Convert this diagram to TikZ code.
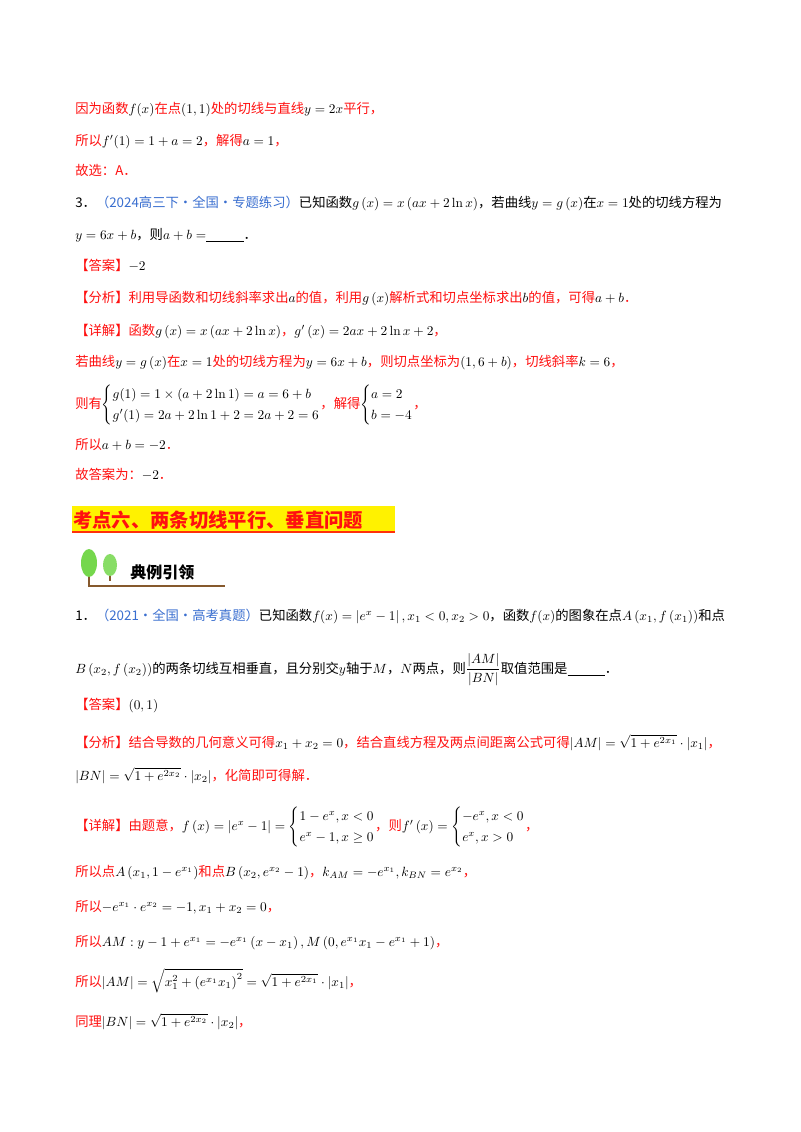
\documentclass[tikz,border=0pt]{standalone}
\usepackage{amsmath,amssymb}
\usepackage{fontspec}
\newfontfamily\cjk{Noto Sans CJK SC}
\definecolor{rd}{HTML}{FF1010}
\definecolor{bl}{HTML}{3A6FD0}
\newcommand{\mm}[1]{{\color{black}$#1$}}
\tikzset{txt/.style={anchor=base west,inner sep=0pt,text=rd,font=\cjk\fontsize{10}{13}\selectfont},
 qtxt/.style={txt,text=black}}
\begin{document}
\begin{tikzpicture}[x=0.75pt,y=-0.75pt]
\useasboundingbox[fill=white] (0,0) rectangle (800,1132);
\node[txt] (l1) at (75,113) {因为函数\mm{f(x)}在点\mm{(1,1)}处的切线与直线\mm{y=2x}平行，};
\node[txt] (l2) at (75,145) {所以\mm{f'(1)=1+a=2}，解得\mm{a=1}，};
\node[txt] (l3) at (75,175) {故选：A．};
\node[qtxt] (l4) at (75,207) {3．\textcolor{bl}{（2024高三下·全国·专题练习）}已知函数\mm{g\left(x\right)=x\left(ax+2\ln x\right)}，若曲线\mm{y=g\left(x\right)}在\mm{x=1}处的切线方程为};
\node[qtxt] (l5) at (75,239) {\mm{y=6x+b}，则\mm{a+b=}\underline{\hspace{2.8em}}．};
\node[txt] (l6) at (75,270) {【答案】\mm{-2}};
\node[txt] (l7) at (75,302) {【分析】利用导函数和切线斜率求出\mm{a}的值，利用\mm{g\left(x\right)}解析式和切点坐标求出\mm{b}的值，可得\mm{a+b}．};
\node[txt] (l8) at (75,335) {【详解】函数\mm{g\left(x\right)=x\left(ax+2\ln x\right)}，\mm{g'\left(x\right)=2ax+2\ln x+2}，};
\node[txt] (l9) at (75,366) {若曲线\mm{y=g\left(x\right)}在\mm{x=1}处的切线方程为\mm{y=6x+b}，则切点坐标为\mm{\left(1,6+b\right)}，切线斜率\mm{k=6}，};
\node[txt] (l10) at (75,408) {则有\mm{\begin{cases}g(1)=1\times\left(a+2\ln 1\right)=a=6+b\\ g'(1)=2a+2\ln1+2=2a+2=6\end{cases}\hspace{-1em}}，解得\mm{\begin{cases}a=2\\ b=-4\end{cases}\hspace{-1em}}，};
\node[txt] (l11) at (75,449) {所以\mm{a+b=-2}．};
\node[txt] (l12) at (75,479) {故答案为：\mm{-2}．};
% heading
\fill[yellow] (72,506) rectangle (395,532);
\node[txt,font=\cjk\bfseries\fontsize{14.5}{17}\selectfont] (h) at (73,527) {考点六、两条切线平行、垂直问题};
\draw[rd!70!orange,line width=1.2pt] (72,532) -- (395,532);
% banner
\draw[brown!70!black,line width=0.8pt] (89,560) -- (89,586) -- (225,586);
\draw[brown!70!black,line width=0.8pt] (110,560) -- (110,581);
\fill[green!55!olive!70] (89,563) ellipse (8 and 14);
\fill[green!55!olive!60] (110,565) ellipse (7 and 11);
\node[qtxt,font=\cjk\bfseries\fontsize{12}{14}\selectfont] (ban) at (130,578) {典例引领};
% question 1
\node[qtxt] (q1) at (75,620) {1．\textcolor{bl}{（2021·全国·高考真题）}已知函数\mm{f(x)=\left|e^x-1\right|,x_1<0,x_2>0}，函数\mm{f(x)}的图象在点\mm{A\left(x_1,f\left(x_1\right)\right)}和点};
\node[qtxt] (q2) at (75,673) {\mm{B\left(x_2,f\left(x_2\right)\right)}的两条切线互相垂直，且分别交\mm{y}轴于\mm{M}，\mm{N}两点，则\mm{\dfrac{|AM|}{|BN|}}取值范围是\underline{\hspace{2.8em}}．};
\node[txt] (a1) at (75,709) {【答案】\mm{\left(0,1\right)}};
\node[txt] (f1) at (75,747) {【分析】结合导数的几何意义可得\mm{x_1+x_2=0}，结合直线方程及两点间距离公式可得\mm{\left|AM\right|=\sqrt{1+e^{2x_1}}\cdot\left|x_1\right|}，};
\node[txt] (f2) at (75,780) {\mm{\left|BN\right|=\sqrt{1+e^{2x_2}}\cdot\left|x_2\right|}，化简即可得解．};
\node[txt] (d1) at (75,830) {【详解】由题意，\mm{f\left(x\right)=\left|e^x-1\right|=\begin{cases}1-e^x,x<0\\ e^x-1,x\ge0\end{cases}\hspace{-1em}}，则\mm{f'\left(x\right)=\begin{cases}-e^x,x<0\\ e^x,x>0\end{cases}\hspace{-1em}}，};
\node[txt] (d2) at (75,876) {所以点\mm{A\left(x_1,1-e^{x_1}\right)}和点\mm{B\left(x_2,e^{x_2}-1\right)}，\mm{k_{AM}=-e^{x_1},k_{BN}=e^{x_2}}，};
\node[txt] (d3) at (75,911) {所以\mm{-e^{x_1}\cdot e^{x_2}=-1,x_1+x_2=0}，};
\node[txt] (d4) at (75,946) {所以\mm{AM:y-1+e^{x_1}=-e^{x_1}\left(x-x_1\right),M\left(0,e^{x_1}x_1-e^{x_1}+1\right)}，};
\node[txt] (d5) at (75,986) {所以\mm{\left|AM\right|=\sqrt{x_1^2+\left(e^{x_1}x_1\right)^2}=\sqrt{1+e^{2x_1}}\cdot\left|x_1\right|}，};
\node[txt] (d6) at (75,1026) {同理\mm{\left|BN\right|=\sqrt{1+e^{2x_2}}\cdot\left|x_2\right|}，};
\end{tikzpicture}
\end{document}
